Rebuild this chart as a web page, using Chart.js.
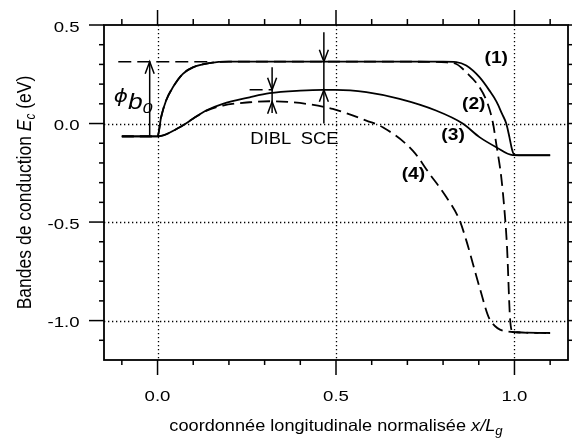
<!DOCTYPE html>
<html>
<head>
<meta charset="utf-8">
<script src="https://cdn.jsdelivr.net/npm/chart.js@4"></script>
<style>
  html, body { margin: 0; padding: 0; background: #fff; }
  canvas { display: block; }
</style>
</head>
<body>
<canvas id="chart" width="572" height="441"></canvas>
<script>
// ── Data ──────────────────────────────────────────────────────────────────────
const xs1 = [-0.1, 0.0, 0.01, 0.024, 0.043, 0.071, 0.099, 0.146, 0.2, 0.4, 0.6, 0.8, 0.837, 0.865, 0.902, 0.93, 0.95, 0.965, 0.977, 0.986, 0.993, 1.0, 1.1];
const ys1 = [-0.065, -0.065, 0.032, 0.117, 0.184, 0.252, 0.285, 0.307, 0.314, 0.314, 0.314, 0.314, 0.312, 0.294, 0.235, 0.167, 0.11, 0.05, 0.0, -0.07, -0.13, -0.16, -0.16];

const xs2 = [-0.1, 0.0, 0.01, 0.024, 0.043, 0.071, 0.099, 0.146, 0.2, 0.4, 0.6, 0.78, 0.81, 0.837, 0.865, 0.902, 0.925, 0.94, 0.949, 0.963, 0.972, 0.979, 0.988, 0.996, 1.1];
const ys2 = [-0.065, -0.065, 0.032, 0.117, 0.184, 0.252, 0.285, 0.307, 0.314, 0.314, 0.314, 0.313, 0.31, 0.302, 0.26, 0.184, 0.1, 0.0, -0.103, -0.272, -0.441, -0.62, -0.998, -1.058, -1.063];

const xs3 = [-0.1, 0.0, 0.062, 0.099, 0.136, 0.183, 0.258, 0.314, 0.4, 0.463, 0.5, 0.585, 0.678, 0.78, 0.855, 0.902, 0.949, 0.995, 1.1];
const ys3 = [-0.065, -0.065, -0.019, 0.024, 0.066, 0.1, 0.133, 0.154, 0.167, 0.171, 0.171, 0.159, 0.125, 0.066, 0.0, -0.069, -0.12, -0.16, -0.162];

const xs4 = [-0.1, 0.0, 0.062, 0.099, 0.136, 0.183, 0.258, 0.314, 0.416, 0.491, 0.585, 0.631, 0.715, 0.762, 0.809, 0.846, 0.865, 0.902, 0.932, 0.995, 1.1];
const ys4 = [-0.065, -0.065, -0.019, 0.024, 0.064, 0.091, 0.108, 0.113, 0.1, 0.074, 0.015, -0.019, -0.137, -0.255, -0.373, -0.49, -0.593, -0.83, -0.998, -1.058, -1.063];

const curveLabels = ["(1)", "(2)", "(3)", "(4)"];
const curveLabelX = [0.949, 0.886, 0.828, 0.717];
const curveLabelY = [0.309, 0.073, -0.086, -0.281];

// ticks
const xMinor = [-0.1, 0.0, 0.1, 0.2, 0.3, 0.4, 0.5, 0.6, 0.7, 0.8, 0.9, 1.0, 1.1];
const xMajor = [0.0, 0.5, 1.0];
const xMajorLabels = ["0.0", "0.5", "1.0"];
const yMinor = [-1.1, -1.0, -0.9, -0.8, -0.7, -0.6, -0.5, -0.4, -0.3, -0.2, -0.1, 0.0, 0.1, 0.2, 0.3, 0.4, 0.5];
const yMajor = [-1.0, -0.5, 0.0, 0.5];
const yMajorLabels = ["-1.0", "-0.5", "0.0", "0.5"];
const xGrid = [0.0, 0.5, 1.0];
const yGrid = [-1.0, -0.5, 0.0];

// annotation: barrier height, DIBL and SCE markers (data units)
const phiLevel = 0.314, phiBase = -0.065, phiX = -0.022;
const phiGuide = [-0.11, 0.15];
const dibLX = 0.321, dibLTop = 0.285, dibLBottom = 0.054, dibLHigh = 0.171, dibLLow = 0.111;
const dibLGuide = [0.258, 0.32];
const sceX = 0.466, sceTop = 0.463, sceBottom = 0.0, sceHigh = 0.314, sceLow = 0.171;

// ── Helpers ───────────────────────────────────────────────────────────────────
const FONT = '"Liberation Sans", Arial, sans-serif';
const SX = 1.2;   // the reference text is drawn a bit wide

const pts = (xs, ys) => xs.map((x, i) => ({ x, y: ys[i] }));

function seg(ctx, x1, y1, x2, y2) {
  ctx.beginPath(); ctx.moveTo(x1, y1); ctx.lineTo(x2, y2); ctx.stroke();
}

function drawRich(ctx, parts, x, y, align, sx) {
  let w = 0;
  parts.forEach(p => { ctx.font = p.font; p.w = ctx.measureText(p.text).width * sx; w += p.w; });
  let cx = align === "center" ? x - w / 2 : align === "right" ? x - w : x;
  parts.forEach(p => {
    ctx.save();
    ctx.font = p.font;
    ctx.translate(cx, y + (p.dy || 0));
    ctx.scale(sx, 1);
    ctx.textAlign = "left";
    ctx.textBaseline = "alphabetic";
    ctx.fillText(p.text, 0, 0);
    ctx.restore();
    cx += p.w;
  });
}

function arrowHead(ctx, x, tipY, up) {
  const d = up ? 1 : -1;
  ctx.beginPath();
  ctx.moveTo(x - 4.5, tipY + 12 * d);
  ctx.lineTo(x, tipY);
  ctx.lineTo(x + 4.5, tipY + 12 * d);
  ctx.stroke();
}

// ── Frame, ticks, grid, annotations ──────────────────────────────────────────
const framePlugin = {
  id: "frame",
  beforeDatasetsDraw(chart) {
    const { ctx, chartArea: a, scales: { x, y } } = chart;
    ctx.save();
    ctx.strokeStyle = "#000";
    ctx.lineWidth = 1.3;
    ctx.setLineDash([1.3, 2.7]);
    xGrid.forEach(v => { const p = Math.round(x.getPixelForValue(v)) + 0.5; seg(ctx, p, a.top, p, a.bottom); });
    yGrid.forEach(v => { const p = Math.round(y.getPixelForValue(v)) + 0.5; seg(ctx, a.left, p, a.right, p); });
    ctx.restore();
  },
  afterDatasetsDraw(chart) {
    const { ctx, chartArea: a, scales: { x, y } } = chart;
    ctx.save();
    ctx.strokeStyle = "#000";
    ctx.fillStyle = "#000";
    ctx.setLineDash([]);

    // box
    ctx.lineWidth = 1.8;
    ctx.strokeRect(a.left, a.top, a.right - a.left, a.bottom - a.top);

    // ticks, outside on all four sides
    ctx.lineWidth = 1.5;
    xMinor.forEach(v => {
      const p = x.getPixelForValue(v);
      const len = xMajor.includes(v) ? 15 : 5;
      seg(ctx, p, a.bottom, p, a.bottom + len);
      seg(ctx, p, a.top, p, a.top - (xMajor.includes(v) ? 15 : 6));
    });
    yMinor.forEach(v => {
      const p = y.getPixelForValue(v);
      const len = yMajor.includes(v) ? 15 : 5;
      seg(ctx, a.left, p, a.left - len, p);
      seg(ctx, a.right, p, a.right + len, p);
    });

    // tick labels
    const tickFont = "15.5px " + FONT;
    xMajor.forEach((v, i) => {
      drawRich(ctx, [{ text: xMajorLabels[i], font: tickFont }], x.getPixelForValue(v), a.bottom + 40.5, "center", SX);
    });
    yMajor.forEach((v, i) => {
      drawRich(ctx, [{ text: yMajorLabels[i], font: tickFont }], a.left - 24.5, y.getPixelForValue(v) + 6.5, "right", SX);
    });

    // axis titles
    drawRich(ctx, [
      { text: "coordonnée longitudinale normalisée ", font: "16.5px " + FONT },
      { text: "x/L", font: "italic 16.5px " + FONT },
      { text: "g", font: "italic 12px " + FONT, dy: 4 },
    ], (a.left + a.right) / 2, 431, "center", 1.1);

    ctx.save();
    ctx.translate(30.5, (a.top + a.bottom) / 2);
    ctx.scale(SX, 1);
    ctx.rotate(-Math.PI / 2);
    drawRich(ctx, [
      { text: "Bandes de conduction ", font: "17.5px " + FONT },
      { text: "E", font: "italic 17.5px " + FONT },
      { text: "c", font: "italic 12px " + FONT, dy: 4 },
      { text: " (eV)", font: "17.5px " + FONT },
    ], 0, 0, "center", 1);
    ctx.restore();

    // phi_b0 marker
    ctx.lineWidth = 1.5;
    const px = x.getPixelForValue(phiX);
    seg(ctx, px, y.getPixelForValue(phiBase), px, y.getPixelForValue(phiLevel));
    arrowHead(ctx, px, y.getPixelForValue(phiLevel), true);
    ctx.setLineDash([13, 6]);
    seg(ctx, x.getPixelForValue(phiGuide[0]), y.getPixelForValue(phiLevel), x.getPixelForValue(phiGuide[1]), y.getPixelForValue(phiLevel));
    seg(ctx, x.getPixelForValue(dibLGuide[0]), y.getPixelForValue(dibLHigh), x.getPixelForValue(dibLGuide[1]), y.getPixelForValue(dibLHigh));
    ctx.setLineDash([]);
    drawRich(ctx, [
      { text: "ϕ", font: 'italic 18px "DejaVu Sans", sans-serif', dy: -7 },
      { text: "b", font: "italic 22px " + FONT },
      { text: "0", font: "italic 15px " + FONT, dy: 4 },
    ], px - 36, y.getPixelForValue(phiLevel) + 47, "left", SX);

    // DIBL marker
    const dx = x.getPixelForValue(dibLX);
    seg(ctx, dx, y.getPixelForValue(dibLTop), dx, y.getPixelForValue(dibLBottom));
    arrowHead(ctx, dx, y.getPixelForValue(dibLHigh), false);
    arrowHead(ctx, dx, y.getPixelForValue(dibLLow), true);

    // SCE marker
    const sx = x.getPixelForValue(sceX);
    seg(ctx, sx, y.getPixelForValue(sceTop), sx, y.getPixelForValue(sceBottom));
    arrowHead(ctx, sx, y.getPixelForValue(sceHigh), false);
    arrowHead(ctx, sx, y.getPixelForValue(sceLow), true);

    const textY = y.getPixelForValue(0) + 20;
    drawRich(ctx, [{ text: "DIBL", font: "16px " + FONT }], x.getPixelForValue(0.317), textY, "center", 1.15);
    drawRich(ctx, [{ text: "SCE", font: "16px " + FONT }], x.getPixelForValue(0.454), textY, "center", 1.15);

    // curve labels
    curveLabels.forEach((t, i) => {
      drawRich(ctx, [{ text: t, font: "bold 16px " + FONT }],
        x.getPixelForValue(curveLabelX[i]), y.getPixelForValue(curveLabelY[i]), "center", SX);
    });

    ctx.restore();
  },
};

// ── Chart ─────────────────────────────────────────────────────────────────────
const lineStyle = { borderColor: "#000", borderWidth: 1.8, pointRadius: 0, showLine: true, fill: false, cubicInterpolationMode: "monotone" };

new Chart(document.getElementById("chart").getContext("2d"), {
  type: "scatter",
  data: {
    datasets: [
      { ...lineStyle, label: "(1)", data: pts(xs1, ys1) },
      { ...lineStyle, label: "(2)", data: pts(xs2, ys2), borderDash: [12, 6] },
      { ...lineStyle, label: "(3)", data: pts(xs3, ys3) },
      { ...lineStyle, label: "(4)", data: pts(xs4, ys4), borderDash: [12, 6] },
    ],
  },
  options: {
    responsive: false,
    animation: false,
    devicePixelRatio: 1,
    layout: { padding: { top: 25, right: 4, left: 0, bottom: 0 } },
    plugins: { legend: { display: false }, tooltip: { enabled: false } },
    scales: {
      x: {
        type: "linear", min: -0.15, max: 1.15,
        grid: { display: false, drawTicks: false }, border: { display: false },
        ticks: { display: false },
        afterFit: s => { s.height = 81; },
      },
      y: {
        type: "linear", min: -1.2, max: 0.5,
        grid: { display: false, drawTicks: false }, border: { display: false },
        ticks: { display: false },
        afterFit: s => { s.width = 104; },
      },
    },
  },
  plugins: [framePlugin],
});
</script>
</body>
</html>
